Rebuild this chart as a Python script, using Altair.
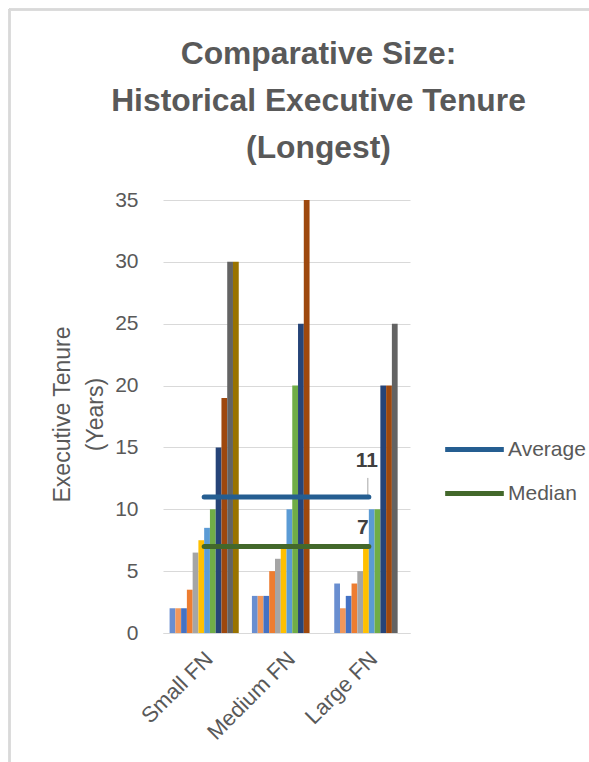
import altair as alt
import pandas as pd

# Firm-size groups and the longest executive tenure (years) of each firm in the group
categories = ["Small FN", "Medium FN", "Large FN"]
series_names = [f"Firm {i}" for i in range(1, 13)]
small_fn = [2, 2, 2, 3.5, 6.5, 7.5, 8.5, 10, 15, 19, 30, 30]
medium_fn = [3, 3, 3, 5, 6, 7, 10, 20, 25, 35, None, None]
large_fn = [4, 2, 3, 4, 5, 7, 10, 10, 20, 20, 25, None]

# Summary lines across all firms
average_values = [11, 11, 11]
median_values = [7, 7, 7]

bar_colors = ["#698ED0", "#F1975A", "#4472C4", "#ED7D31", "#A5A5A5", "#FFC000",
              "#5B9BD5", "#70AD47", "#264478", "#9E480E", "#636363", "#997300"]
line_names = ["Average", "Median"]
line_colors = ["#255E91", "#43682B"]

FONT = "Liberation Sans"
TEXT = "#595959"

rows = []
for cat, vals in zip(categories, [small_fn, medium_fn, large_fn]):
    for name, v in zip(series_names, vals):
        if v is not None:
            rows.append({"group": cat, "firm": name, "tenure": v})
bars_df = pd.DataFrame(rows)

line_rows = []
for cat, a, m in zip(categories, average_values, median_values):
    line_rows.append({"group": cat, "stat": "Average", "value": a})
    line_rows.append({"group": cat, "stat": "Median", "value": m})
lines_df = pd.DataFrame(line_rows)
label_df = lines_df[lines_df["group"] == categories[-1]]

x_enc = alt.X(
    "group:N",
    sort=categories,
    scale=alt.Scale(paddingInner=0.16, paddingOuter=0.08),
    axis=alt.Axis(
        title=None, labelAngle=-45, labelFont=FONT, labelFontSize=22,
        labelColor=TEXT, ticks=False, domain=True, domainColor="#D9D9D9",
        domainWidth=1, labelPadding=15, labelOffset=-2,
    ),
)
y_scale = alt.Scale(domain=[0, 35], nice=False)
y_enc = alt.Y(
    "tenure:Q",
    scale=y_scale,
    axis=alt.Axis(
        values=list(range(0, 36, 5)), grid=True, gridColor="#D9D9D9",
        ticks=False, domain=False, labelFont=FONT, labelFontSize=21,
        labelColor=TEXT, labelPadding=25,
        title=["Executive Tenure", "(Years)"], titleFont=FONT,
        titleFontSize=23, titleFontWeight="normal", titleColor=TEXT,
        titleLineHeight=33, titleAngle=270, titleAlign="center",
        titleBaseline="middle", titleX=-101, titleY=214,
    ),
)

bars = alt.Chart(bars_df).mark_bar().encode(
    x=x_enc,
    xOffset=alt.XOffset("firm:N", sort=series_names,
                        scale=alt.Scale(domain=series_names, paddingInner=0, paddingOuter=0)),
    y=y_enc,
    color=alt.Color("firm:N", scale=alt.Scale(domain=series_names, range=bar_colors), legend=None),
)

leader = alt.Chart(label_df[label_df["stat"] == "Average"]).mark_rule(
    color="#A6A6A6", strokeWidth=1, y2Offset=-19, xOffset=-1
).encode(
    x=alt.X("group:N", sort=categories),
    y=alt.Y("value:Q", scale=y_scale),
    y2="value:Q",
)

lines = alt.Chart(lines_df).mark_line(strokeWidth=5, strokeCap="round").encode(
    x=alt.X("group:N", sort=categories),
    y=alt.Y("value:Q", scale=y_scale),
    color=alt.Color(
        "stat:N",
        scale=alt.Scale(domain=line_names, range=line_colors),
        legend=alt.Legend(
            title=None, orient="none", legendX=294, legendY=232,
            symbolType="M-2,0H2", symbolSize=860, symbolStrokeWidth=5,
            labelFont=FONT, labelFontSize=21, labelColor=TEXT,
            labelOffset=16, rowPadding=16, symbolFillColor="transparent",
        ),
    ),
)

avg_label = alt.Chart(label_df[label_df["stat"] == "Average"]).mark_text(
    font=FONT, fontSize=21, fontWeight="bold", color="#404040", dx=-2, dy=-36,
    baseline="middle",
).encode(
    x=alt.X("group:N", sort=categories),
    y=alt.Y("value:Q", scale=y_scale),
    text="value:Q",
)

med_label = alt.Chart(label_df[label_df["stat"] == "Median"]).mark_text(
    font=FONT, fontSize=21, fontWeight="bold", color="#404040", dx=-6, dy=-18,
    baseline="middle",
).encode(
    x=alt.X("group:N", sort=categories),
    y=alt.Y("value:Q", scale=y_scale),
    text="value:Q",
)

# Thin chart-area border along the top and left edges
frame_top = alt.Chart(bars_df).mark_rule(color="#D9D9D9", strokeWidth=1.5).encode(
    x=alt.value(-153.5), x2=alt.value(430), y=alt.value(-190.5)
)
frame_left = alt.Chart(bars_df).mark_rule(color="#D9D9D9", strokeWidth=1.5).encode(
    x=alt.value(-153.5), y=alt.value(-190.5), y2=alt.value(570)
)

chart = alt.layer(
    frame_top, frame_left, bars, leader, lines, avg_label, med_label
).resolve_scale(
    color="independent"
).properties(
    width=247,
    height=433,
    background="white",
    autosize=alt.AutoSizeParams(type="none"),
    padding={"left": 163, "top": 200, "right": 179, "bottom": 129},
    title=alt.TitleParams(
        text=["Comparative Size:", "Historical Executive Tenure", "(Longest)"],
        font=FONT, fontSize=31.8, fontWeight="bold", color=TEXT,
        lineHeight=47, anchor="middle", dx=32, offset=-156,
    ),
).configure_view(
    strokeWidth=0, stroke="transparent"
)

chart.save("out.html", embed_options={"renderer": "svg", "actions": False})
